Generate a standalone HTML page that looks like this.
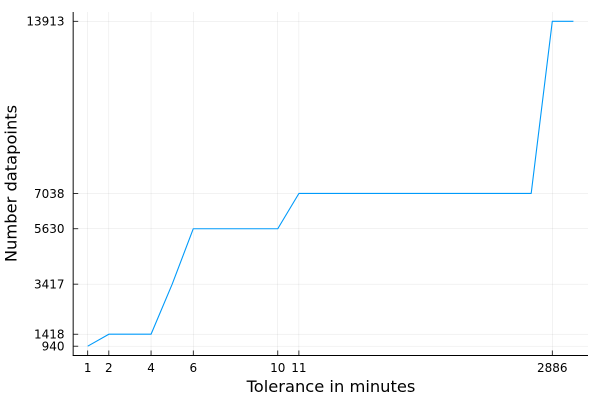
<!DOCTYPE html>
<html>
<head>
<meta charset="utf-8">
<style>
html,body{margin:0;padding:0;background:#fff;width:600px;height:400px;overflow:hidden}
svg{display:block}
text{font-family:"DejaVu Sans","Liberation Sans",sans-serif;fill:#000}
</style>
</head>
<body>
<svg id="chart" xmlns="http://www.w3.org/2000/svg" width="600" height="400" viewBox="0 0 600 400">
<g id="grid"></g>
<g id="series"></g>
<g id="axes"></g>
<text x="331" y="392" text-anchor="middle" font-size="16.3">Tolerance in minutes</text>
<text transform="translate(16.5 183.5) rotate(-90)" text-anchor="middle" font-size="16.3">Number datapoints</text>
</svg>
<script>
const xCategories = [1,2,3,4,5,6,7,8,9,10,11,12,13,14,15,16,17,18,19,20,21,22,23,24];
const datapoints = [940,1418,1418,1418,3417,5630,5630,5630,5630,5630,7038,7038,7038,7038,7038,7038,7038,7038,7038,7038,7038,7038,13913,13913];
const xTickCategories = [1,2,4,6,10,11,23];
const xTickLabels = ["1","2","4","6","10","11","2886"];
const yTickValues = [940,1418,3417,5630,7038,13913];
const yTickLabels = ["940","1418","3417","5630","7038","13913"];

const NS = 'http://www.w3.org/2000/svg';
const plotLeft = 73.2, plotRight = 588, plotTop = 12, plotBottom = 355.5;
function xScale(v){ return 87.7 + (v - 1) * (552.3 - 87.7) / 22; }
function yScale(v){ return 346.2 + (v - 940) * (21.3 - 346.2) / (13913 - 940); }
function make(tag, attrs, parent){
  const el = document.createElementNS(NS, tag);
  for (const k in attrs) el.setAttribute(k, attrs[k]);
  parent.appendChild(el);
  return el;
}
const grid = document.getElementById('grid');
const axes = document.getElementById('axes');
const series = document.getElementById('series');

xTickCategories.forEach(function(c, i){
  const x = xScale(c);
  const g = make('line', {x1:x, x2:x, y1:plotTop, y2:plotBottom, stroke:'#000', 'stroke-opacity':0.1, 'stroke-width':0.5}, grid);
  
  
  const t = make('line', {x1:x, x2:x, y1:plotBottom, y2:plotBottom - 5, stroke:'#000', 'stroke-width':0.8}, axes);
  
  
  const l = make('text', {x:x, y:372, 'text-anchor':'middle', 'font-size':12}, axes);
  l.textContent = xTickLabels[i];
  
  
});

yTickValues.forEach(function(v, i){
  const y = yScale(v);
  const g = make('line', {x1:plotLeft, x2:plotRight, y1:y, y2:y, stroke:'#000', 'stroke-opacity':0.1, 'stroke-width':0.5}, grid);
  
  
  const t = make('line', {x1:plotLeft, x2:plotLeft + 5, y1:y, y2:y, stroke:'#000', 'stroke-width':0.8}, axes);
  
  
  const l = make('text', {x:64.5, y:y + 4.3, 'text-anchor':'end', 'font-size':12}, axes);
  l.textContent = yTickLabels[i];
  
  
});

const pts = xCategories.map(function(c, i){ return xScale(c).toFixed(2) + ',' + yScale(datapoints[i]).toFixed(2); }).join(' ');
const line = make('polyline', {points:pts, fill:'none', stroke:'#009AFA', 'stroke-width':1.1, 'stroke-linejoin':'round'}, series);



const xAxis = make('line', {x1:plotLeft - 0.5, x2:plotRight, y1:plotBottom, y2:plotBottom, stroke:'#000', 'stroke-width':1}, axes);


const yAxis = make('line', {x1:plotLeft, x2:plotLeft, y1:plotTop, y2:plotBottom, stroke:'#000', 'stroke-opacity':0.8, 'stroke-width':1.2}, axes);


</script>
</body>
</html>
